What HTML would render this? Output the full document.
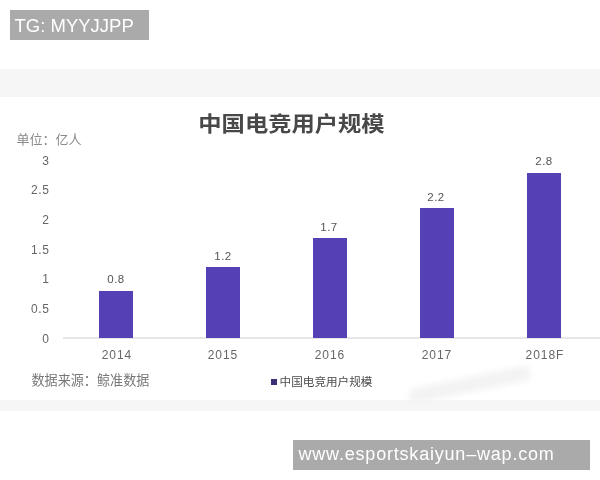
<!DOCTYPE html>
<html lang="zh-CN">
<head>
<meta charset="utf-8">
<title>中国电竞用户规模</title>
<style>
*{margin:0;padding:0;box-sizing:border-box}
html,body{width:600px;height:480px;overflow:hidden;background:#fff}
body{position:relative;font-family:"Liberation Sans","Noto Sans CJK SC",sans-serif}
.tag{position:absolute;background:#aaa;color:#fff;white-space:nowrap}
#tg{left:10px;top:10px;width:139px;height:30px;font-size:18.5px;line-height:32px;padding-left:4.5px}
#url{left:293px;top:440px;width:297px;height:30px;font-size:18px;line-height:29px;padding-left:5.5px;letter-spacing:.8px}
#chart{position:absolute;left:0;top:69px;width:600px;height:342px;background:#fff;overflow:hidden;filter:blur(.4px)}
#chart div{position:absolute;white-space:nowrap}
.band{background:#f6f6f6;left:0;width:600px}
.title{left:198.3px;font-size:23.3px;font-weight:bold;color:#484848;line-height:32px;height:32px;transform:scaleY(.9);transform-origin:0 50%}
.yl{width:49.5px;left:0;text-align:right;font-size:12px;letter-spacing:.6px;color:#666;height:14px;line-height:14px}
.bar{background:#5540b6;width:33.8px}
.vl{width:60px;text-align:center;font-size:11.5px;letter-spacing:.5px;color:#555;height:14px;line-height:14px}
.xl{width:80px;text-align:center;font-size:12px;letter-spacing:.95px;color:#666;height:14px;line-height:14px}
</style>
</head>
<body>
<div class="tag" id="tg">TG: MYYJJPP</div>
<div id="chart">
  <div class="band" style="top:0;height:28.4px"></div>
  <div class="band" style="top:330.8px;height:11.2px"></div>
  <div style="left:408px;top:308px;width:124px;height:15px;background:#f3f3f3;transform:rotate(-11.5deg);filter:blur(3px);border-radius:7px"></div>
  <div class="title" style="top:39.2px">中国电竞用户规模</div>
  <div style="left:16.6px;top:64px;font-size:13px;color:#8a8a8a;line-height:14px">单位：亿人</div>
  <div class="yl" style="top:85px">3</div>
  <div class="yl" style="top:114px">2.5</div>
  <div class="yl" style="top:144px">2</div>
  <div class="yl" style="top:174px">1.5</div>
  <div class="yl" style="top:203px">1</div>
  <div class="yl" style="top:233px">0.5</div>
  <div class="yl" style="top:263px">0</div>
  <div style="left:63px;top:268.3px;width:537px;height:1.6px;background:#e6e6e6"></div>
  <div class="bar" style="left:99.2px;top:222.2px;height:46.9px"></div>
  <div class="bar" style="left:206.2px;top:198.3px;height:70.8px"></div>
  <div class="bar" style="left:313.2px;top:169.3px;height:99.8px"></div>
  <div class="bar" style="left:420.2px;top:139.3px;height:129.8px"></div>
  <div class="bar" style="left:527.2px;top:103.7px;height:165.4px"></div>
  <div class="vl" style="left:86px;top:203px">0.8</div>
  <div class="vl" style="left:193px;top:180px">1.2</div>
  <div class="vl" style="left:299px;top:151px">1.7</div>
  <div class="vl" style="left:406px;top:121px">2.2</div>
  <div class="vl" style="left:514px;top:85px">2.8</div>
  <div class="xl" style="left:77px;top:279px">2014</div>
  <div class="xl" style="left:183px;top:279px">2015</div>
  <div class="xl" style="left:290px;top:279px">2016</div>
  <div class="xl" style="left:397px;top:279px">2017</div>
  <div class="xl" style="left:505px;top:279px">2018F</div>
  <div style="left:31.5px;top:304px;font-size:13.1px;color:#777;line-height:16px">数据来源：鲸准数据</div>
  <div style="left:270.6px;top:309.6px;width:6.6px;height:6.6px;background:#3b2f7a"></div>
  <div style="left:279.6px;top:305.3px;font-size:11.6px;color:#4c4c4c;line-height:16px">中国电竞用户规模</div>
</div>
<div class="tag" id="url">www.esportskaiyun–wap.com</div>
</body>
</html>
